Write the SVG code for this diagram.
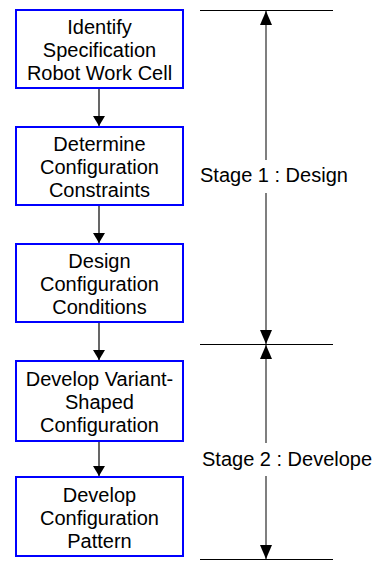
<svg xmlns="http://www.w3.org/2000/svg" width="377" height="561" viewBox="0 0 377 561">
  <style>
    .box { fill: #fff; stroke: #0000ff; stroke-width: 2; }
    .lbl { font-family: "Liberation Sans", Arial, sans-serif; font-size: 20px; fill: #000; text-anchor: middle; }
    .stage { font-family: "Liberation Sans", Arial, sans-serif; font-size: 20px; fill: #000; }
    .flow { stroke: #000; stroke-width: 1.2; fill: none; }
    .dim { stroke: #555; stroke-width: 1.5; fill: none; }
    .rule { stroke: #000; stroke-width: 1; fill: none; }
  </style>
  <defs>
    <marker id="ah" markerWidth="10" markerHeight="12" refX="10" refY="6" orient="auto" markerUnits="userSpaceOnUse">
      <path d="M0,0 L10,6 L0,12 Z" fill="#000"/>
    </marker>
    <marker id="dh" markerWidth="14" markerHeight="12" refX="14" refY="6" orient="auto" markerUnits="userSpaceOnUse">
      <path d="M0,0 L14,6 L0,12 Z" fill="#000"/>
    </marker>
  </defs>
  <rect width="377" height="561" fill="#fff"/>

  <g id="connectors">
    <line class="flow" x1="99" y1="89" x2="99" y2="126" marker-end="url(#ah)"/>
    <line class="flow" x1="99" y1="206" x2="99" y2="243" marker-end="url(#ah)"/>
    <line class="flow" x1="99" y1="323" x2="99" y2="360" marker-end="url(#ah)"/>
    <line class="flow" x1="99" y1="441" x2="99" y2="476" marker-end="url(#ah)"/>
  </g>

  <g id="node1">
    <rect class="box" x="16" y="10" width="167" height="78"/>
    <text class="lbl" x="99.5" y="34">Identify</text>
    <text class="lbl" x="99.5" y="57">Specification</text>
    <text class="lbl" x="99.5" y="80">Robot Work Cell</text>
  </g>
  <g id="node2">
    <rect class="box" x="16" y="127" width="167" height="78"/>
    <text class="lbl" x="99.5" y="151">Determine</text>
    <text class="lbl" x="99.5" y="174">Configuration</text>
    <text class="lbl" x="99.5" y="197">Constraints</text>
  </g>
  <g id="node3">
    <rect class="box" x="16" y="244" width="167" height="78"/>
    <text class="lbl" x="99.5" y="268">Design</text>
    <text class="lbl" x="99.5" y="291">Configuration</text>
    <text class="lbl" x="99.5" y="314">Conditions</text>
  </g>
  <g id="node4">
    <rect class="box" x="16" y="361" width="167" height="80"/>
    <text class="lbl" x="99.5" y="386">Develop Variant-</text>
    <text class="lbl" x="99.5" y="409">Shaped</text>
    <text class="lbl" x="99.5" y="432">Configuration</text>
  </g>
  <g id="node5">
    <rect class="box" x="16" y="477" width="167" height="79"/>
    <text class="lbl" x="99.5" y="502">Develop</text>
    <text class="lbl" x="99.5" y="525">Configuration</text>
    <text class="lbl" x="99.5" y="548">Pattern</text>
  </g>

  <g id="stages">
    <line class="rule" x1="200" y1="10.5" x2="333" y2="10.5"/>
    <line class="rule" x1="200" y1="344.5" x2="333" y2="344.5"/>
    <line class="rule" x1="200" y1="559.5" x2="333" y2="559.5"/>
    <!-- Stage 1 dimension arrow -->
    <line class="dim" x1="266" y1="160" x2="266" y2="11" marker-end="url(#dh)"/>
    <line class="dim" x1="266" y1="193" x2="266" y2="344" marker-end="url(#dh)"/>
    <text class="stage" x="200" y="182">Stage 1 : Design</text>
    <!-- Stage 2 dimension arrow -->
    <line class="dim" x1="266" y1="443" x2="266" y2="345" marker-end="url(#dh)"/>
    <line class="dim" x1="266" y1="476" x2="266" y2="559" marker-end="url(#dh)"/>
    <text class="stage" x="202" y="466">Stage 2 : Develope</text>
  </g>
</svg>
